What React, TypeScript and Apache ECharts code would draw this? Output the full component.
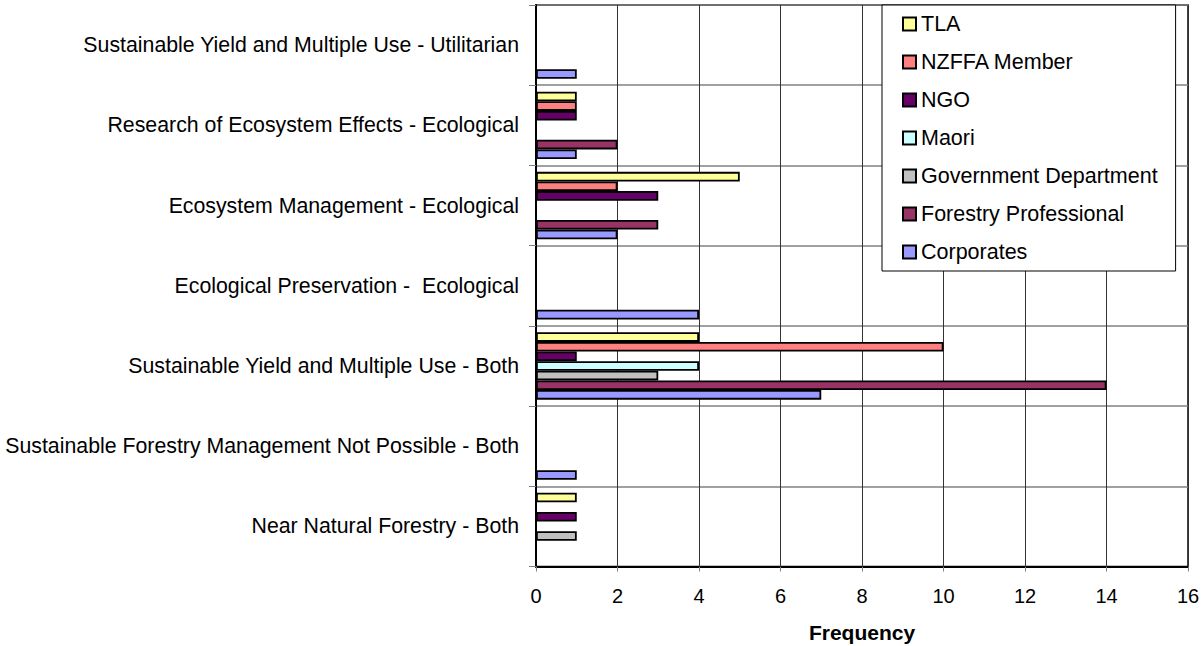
import React, { useEffect, useRef } from "react";
import * as echarts from "echarts";

const categories = [
  "Near Natural Forestry - Both",
  "Sustainable Forestry Management Not Possible - Both",
  "Sustainable Yield and Multiple Use - Both",
  "Ecological Preservation -  Ecological",
  "Ecosystem Management - Ecological",
  "Research of Ecosystem Effects - Ecological",
  "Sustainable Yield and Multiple Use - Utilitarian",
];

const tla = [1, 0, 4, 0, 5, 1, 0];
const nzffaMember = [0, 0, 10, 0, 2, 1, 0];
const ngo = [1, 0, 1, 0, 3, 1, 0];
const maori = [0, 0, 4, 0, 0, 0, 0];
const governmentDepartment = [1, 0, 3, 0, 0, 0, 0];
const forestryProfessional = [0, 0, 14, 0, 3, 2, 0];
const corporates = [0, 1, 7, 4, 2, 1, 1];

const seriesDefs = [
  { name: "TLA", data: tla, color: "#FFFF99" },
  { name: "NZFFA Member", data: nzffaMember, color: "#FF8080" },
  { name: "NGO", data: ngo, color: "#660066" },
  { name: "Maori", data: maori, color: "#CCFFFF" },
  { name: "Government Department", data: governmentDepartment, color: "#C0C0C0" },
  { name: "Forestry Professional", data: forestryProfessional, color: "#993366" },
  { name: "Corporates", data: corporates, color: "#9999FF" },
];

const FONT = '"Liberation Sans", Arial, sans-serif';

export default function App() {
  const ref = useRef<HTMLDivElement>(null);
  useEffect(() => {
    if (!ref.current) return;
    const chart = echarts.init(ref.current, null, { renderer: "svg" });
    chart.setOption({
      animation: false,
      backgroundColor: "#fff",
      textStyle: { fontFamily: FONT },
      grid: {
        left: 536,
        right: 14,
        top: 5,
        bottom: 79.5,
        containLabel: false,
        outerBoundsMode: "none",
        show: true,
        borderColor: "#000",
        borderWidth: 1.5,
      },
      legend: {
        orient: "vertical",
        left: 882,
        top: 5,
        padding: [7, 18, 7, 20],
        itemGap: 14,
        itemWidth: 13,
        itemHeight: 13,
        backgroundColor: "#fff",
        borderColor: "#000",
        borderWidth: 1,
        borderRadius: 0,
        data: seriesDefs.map((s) => s.name),
        icon: "rect",
        textStyle: { fontSize: 21.5, color: "#000", fontFamily: FONT, lineHeight: 24 },
      },
      xAxis: {
        type: "value",
        min: 0,
        max: 16,
        interval: 2,
        name: "Frequency",
        nameLocation: "middle",
        nameGap: 55,
        nameTextStyle: { fontSize: 21, fontWeight: "bold", color: "#000", fontFamily: FONT },
        axisLine: { show: true, lineStyle: { color: "#000", width: 2 } },
        axisTick: { show: true, length: 5, lineStyle: { color: "#808080" } },
        axisLabel: { fontSize: 20, color: "#000", margin: 19, fontFamily: FONT },
        splitLine: { show: true, lineStyle: { color: "#333", width: 1 } },
      },
      yAxis: {
        type: "category",
        data: categories,
        axisLine: { show: true, lineStyle: { color: "#000", width: 2 } },
        axisTick: { show: true, length: 7, lineStyle: { color: "#808080" } },
        axisLabel: { fontSize: 21.3, color: "#000", margin: 17, fontFamily: FONT },
        splitLine: { show: true, lineStyle: { color: "#808080", width: 1.5 } },
      },
      series: seriesDefs.map((s) => ({
        name: s.name,
        type: "bar",
        data: s.data,
        barGap: "0%",
        barCategoryGap: "16%",
        itemStyle: { color: s.color, borderColor: "#000", borderWidth: 1.8 },
      })),
    });
    return () => chart.dispose();
  }, []);
  return (
    <div
      ref={ref}
      style={{ position: "fixed", left: 0, top: 0, width: 1202, height: 646 }}
    />
  );
}
